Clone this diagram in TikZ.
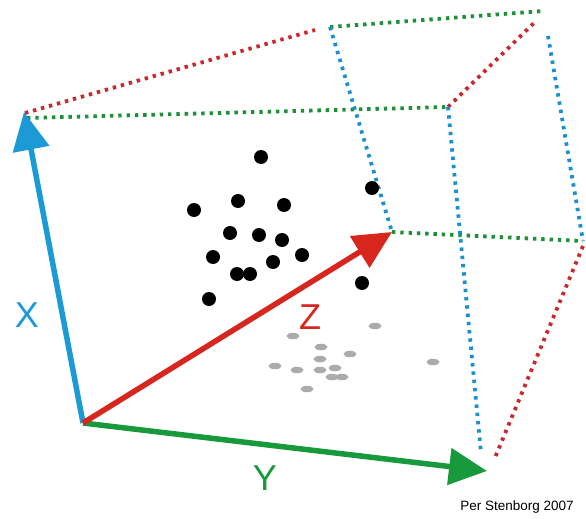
\documentclass[tikz,border=0pt]{standalone}
\usepackage{fontspec}
\setmainfont{Liberation Sans}
\usetikzlibrary{arrows.meta,shapes.geometric}
\definecolor{axblue}{HTML}{1B9AD6}
\definecolor{axgreen}{HTML}{189A3C}
\definecolor{axred}{HTML}{D7261E}
\definecolor{dotred}{HTML}{C9282D}
\definecolor{dotgreen}{HTML}{1F8F3A}
\definecolor{dotblue}{HTML}{1A90D0}
\definecolor{shadow}{HTML}{ABABAB}
\tikzset{
  dotline/.style={line width=3.8pt, dash pattern=on 3.4pt off 4.9pt},
  axis/.style={line width=5.5pt, -{Triangle[length=38pt,width=36pt]}},
  pt/.style={fill=black, circle, inner sep=0pt, minimum size=14pt},
  sh/.style={fill=shadow, ellipse, inner sep=0pt, minimum width=13pt, minimum height=6.5pt},
  lab/.style={font=\fontsize{36}{36}\selectfont, inner sep=0pt},
}
\begin{document}
\begin{tikzpicture}[x=1pt,y=-1pt]
\useasboundingbox (0,0) rectangle (586,519);
% corners
\coordinate (O) at (83,423);
\coordinate (Xt) at (24,112);
\coordinate (Yt) at (487,471);
\coordinate (Zt) at (392,232);
\coordinate (A) at (25,113);
\coordinate (A2) at (27,118);
\coordinate (B) at (315,30);
\coordinate (C) at (330,27);
\coordinate (D) at (543,11);
\coordinate (E) at (448,107);
\coordinate (F) at (535,22);
\coordinate (G) at (548,36);
\coordinate (H) at (583,241);
\coordinate (I) at (583,246);
\coordinate (J) at (494,460);
\coordinate (K) at (481,453);
% dotted box
\draw[dotline, dotred] (A) -- (B);
\draw[dotline, dotgreen] (A2) -- (E);
\draw[dotline, dotred] (E) -- (F);
\draw[dotline, dotgreen] (C) -- (D);
\draw[dotline, dotblue] (C) -- (Zt);
\draw[dotline, dotgreen] (Zt) -- (H);
\draw[dotline, dotblue] (E) -- (K);
\draw[dotline, dotblue] (G) -- (H);
\draw[dotline, dotred] (I) -- (J);
% shadows
\foreach \p [count=\i] in {(375,326),(293,336),(321,347),(350,354),(320,359),(275,366),(297,370),(320,370),(335,368),(332,377),(342,377),(307,389),(433,362)}
  \node[sh] (s\i) at \p {};
% points
\foreach \p [count=\i] in {(261,157),(372,188),(194,210),(238,201),(284,205),(230,233),(259,235),(282,240),(213,257),(302,255),(273,262),(237,274),(250,274),(209,299),(362,283)}
  \node[pt] (p\i) at \p {};
% axes
\draw[axis, axblue] (O) -- (Xt);
\draw[axis, axgreen] (O) -- (Yt);
\draw[axis, axred] (O) -- (Zt);
% labels
\node[lab, text=axblue] (lx) at (27,315) {X};
\node[lab, text=axgreen] (ly) at (265,478) {Y};
\node[lab, text=axred] (lz) at (310,317) {Z};
\node[font=\fontsize{13.5}{14}\selectfont, inner sep=0pt] (cr) at (517,507) {Per Stenborg 2007};
\end{tikzpicture}
\end{document}
